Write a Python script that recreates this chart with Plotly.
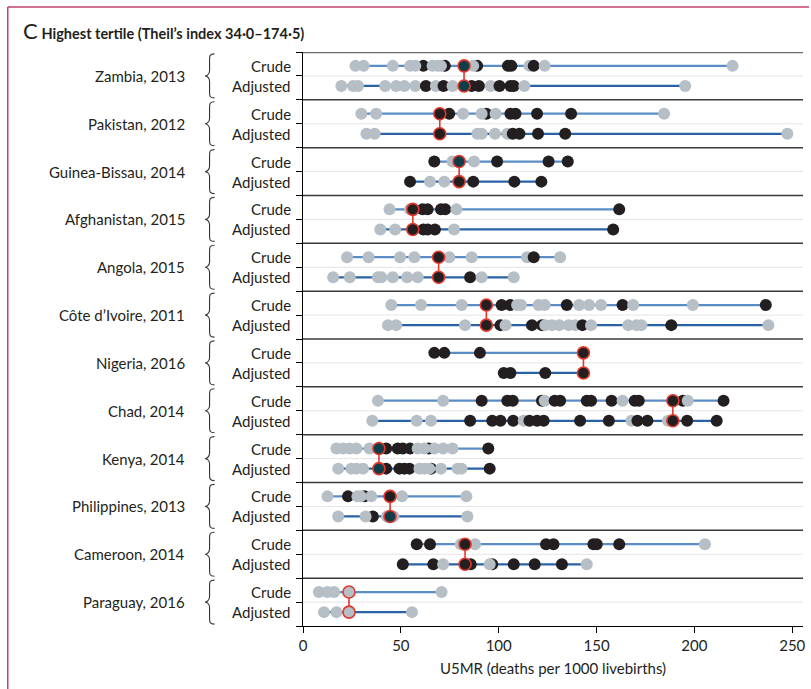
import plotly.graph_objects as go

# ---------------- data ----------------
countries = ["Zambia, 2013", "Pakistan, 2012", "Guinea-Bissau, 2014", "Afghanistan, 2015",
             "Angola, 2015", "Côte d’Ivoire, 2011", "Nigeria, 2016", "Chad, 2014",
             "Kenya, 2014", "Philippines, 2013", "Cameroon, 2014", "Paraguay, 2016"]

crude_vals = [
    [26.8, 31.0, 45.9, 61.5, 54.7, 57.4, 72.5, 66.2, 68.8, 70.5, 89.0, 87.0, 104.7, 106.5, 115.7, 117.9, 123.5, 219.5],
    [29.8, 37.4, 74.7, 81.8, 93.7, 91.3, 98.4, 106.0, 108.6, 119.6, 137.0, 184.5],
    [67.1, 76.4, 87.4, 99.2, 125.5, 135.3],
    [44.2, 54.7, 61.1, 63.7, 70.5, 72.7, 78.4, 161.6],
    [22.5, 33.5, 49.6, 56.9, 74.7, 86.2, 114.5, 117.9, 131.4],
    [45.1, 60.3, 81.1, 101.5, 106.0, 109.4, 111.4, 120.4, 123.5, 134.8, 141.1, 146.2, 152.3, 163.3, 168.7, 199.2, 236.5],
    [67.1, 72.2, 90.4],
    [38.3, 71.6, 91.3, 104.4, 107.2, 122.1, 123.5, 128.6, 131.4, 145.0, 147.2, 157.7, 163.3, 169.5, 171.6, 194.1, 196.6, 214.9],
    [17.1, 20.5, 23.9, 27.3, 34.0, 42.5, 48.4, 51.0, 54.7, 58.6, 64.2, 62.0, 67.1, 71.6, 76.4, 94.7],
    [12.5, 23.0, 31.5, 27.8, 29.5, 34.9, 50.6, 83.5],
    [58.1, 64.9, 80.6, 87.9, 124.2, 128.0, 148.4, 150.1, 161.6, 205.4],
    [8.1, 12.5, 15.9, 70.8],
]
crude_cols = [
    "gggkggkgggkgkkgkgg",
    "ggkgkggkkkkg",
    "kggkkk",
    "ggkkkkgk",
    "gggggggkg",
    "gggkkggggkgggkggk",
    "kkk",
    "ggkkkkgkkkkkgkkkgk",
    "gggggkkkkgkggggk",
    "gkkggggg",
    "kkggkkkkkg",
    "gggg",
]

adj_vals = [
    [19.6, 25.6, 28.1, 42.0, 47.6, 51.8, 57.4, 62.8, 67.9, 71.8, 76.4, 86.2, 89.9, 95.9, 100.4, 106.0, 107.7, 113.1, 195.3],
    [32.4, 36.6, 89.1, 91.3, 98.1, 104.4, 107.2, 110.6, 120.1, 134.0, 247.5],
    [54.7, 64.9, 72.2, 87.0, 108.0, 121.8],
    [39.5, 47.1, 61.5, 63.7, 67.4, 77.2, 158.5],
    [15.4, 23.9, 38.3, 40.0, 45.9, 53.2, 58.6, 85.4, 91.3, 107.7],
    [43.4, 47.6, 82.8, 100.9, 103.5, 117.0, 122.1, 123.8, 127.2, 130.9, 135.7, 139.1, 142.8, 147.2, 166.2, 170.4, 172.9, 188.2, 237.8],
    [102.6, 106.0, 123.8],
    [35.4, 58.1, 65.4, 85.4, 96.7, 100.9, 107.4, 112.8, 115.7, 119.6, 123.0, 141.6, 156.3, 167.9, 170.9, 176.0, 186.5, 196.3, 211.4],
    [18.0, 24.7, 27.3, 30.7, 42.5, 49.3, 51.8, 54.4, 65.5, 59.5, 62.0, 64.5, 70.5, 79.0, 81.0, 95.4],
    [18.0, 35.7, 32.0, 42.9, 46.2, 84.0],
    [51.0, 66.6, 71.6, 85.7, 96.7, 95.4, 107.7, 118.4, 132.3, 145.0],
    [10.7, 17.1, 55.7],
]
adj_cols = [
    "gggggggkgkgkkgkkkgg",
    "ggggggkkkkg",
    "kggkkk",
    "ggkkkgk",
    "gggggggkgg",
    "gggkgkkgggggkggggkg",
    "kkk",
    "gggkkkkgkkkkkgkkgkk",
    "ggggkkkkkggggggk",
    "gkgggg",
    "kkgkkgkkkg",
    "ggg",
]

med_crude = [82.3, 69.9, 79.8, 56.1, 69.3, 93.7, 143.3, 189.0, 38.8, 44.5, 82.8, 23.5]
med_adj   = [82.3, 69.9, 79.8, 56.1, 69.3, 93.7, 143.3, 189.0, 38.8, 44.5, 82.8, 23.5]
med_fill_crude = ["t", "k", "t", "k", "k", "k", "k", "k", "t", "k", "k", "g"]
med_fill_adj   = ["t", "k", "k", "k", "k", "k", "k", "k", "t", "t", "k", "g"]

x_ticks = [0, 50, 100, 150, 200, 250]
x_title = "U5MR (deaths per 1000 livebirths)"
row_labels = ["Crude", "Adjusted"]

# ---------------- style ----------------
COL = {"g": "#b6bec6", "k": "#231f20", "t": "#0f3d48"}
RED = "#e2382c"
LINE_CRUDE = "#5a8dc5"
LINE_ADJ = "#2a62a8"
FONT = "Lato"
TXT = "#231f20"

W, H = 811, 689
ML, MR, MT, MB = 303, 5, 52, 63
pw = W - ML - MR
ph = H - MT - MB
OFF = 0.42

def xp(px):
    return (px - ML) / pw

def yp(py):
    return (H - MB - py) / ph

fig = go.Figure()
shapes = []
annotations = []

for i, name in enumerate(countries):
    c = 2 * i + 1
    yc, ya = c - OFF, c + OFF
    for vals, cols, med, y, lc in [
        (crude_vals[i], crude_cols[i], med_crude[i], yc, LINE_CRUDE),
        (adj_vals[i], adj_cols[i], med_adj[i], ya, LINE_ADJ),
    ]:
        allv = vals + [med]
        fig.add_trace(go.Scatter(x=[min(allv), max(allv)], y=[y, y], mode="lines",
                                 line=dict(color=lc, width=2.2), hoverinfo="skip", showlegend=False))
        fig.add_trace(go.Scatter(x=vals, y=[y] * len(vals), mode="markers",
                                 marker=dict(size=12, color=[COL[k] for k in cols], line=dict(width=0)),
                                 showlegend=False))
    fig.add_trace(go.Scatter(x=[med_crude[i], med_adj[i]], y=[yc, ya], mode="lines",
                             line=dict(color=RED, width=1.6), hoverinfo="skip", showlegend=False))
    fig.add_trace(go.Scatter(x=[med_crude[i], med_adj[i]], y=[yc, ya], mode="markers",
                             marker=dict(size=12, color=[COL[med_fill_crude[i]], COL[med_fill_adj[i]]],
                                         line=dict(color=RED, width=1.6)),
                             showlegend=False))
    # labels
    annotations.append(dict(x=xp(186), y=c, xref="paper", yref="y", text=name, showarrow=False,
                            xanchor="right", yanchor="middle", font=dict(family=FONT, size=15, color=TXT)))
    for lab, yy in zip(row_labels, [yc, ya]):
        annotations.append(dict(x=xp(293), y=yy, xref="paper", yref="y", text=lab, showarrow=False,
                                xanchor="right", yanchor="middle", font=dict(family=FONT, size=15, color=TXT)))
    # brace
    xe, xb, xt = xp(214), xp(209), xp(204.5)
    h = 0.92
    path = (f"M {xe},{c-h} C {xb},{c-h} {xb},{c-h+0.08} {xb},{c-h+0.25} "
            f"L {xb},{c-0.22} C {xb},{c-0.05} {xt+0.002},{c} {xt},{c} "
            f"C {xt+0.002},{c} {xb},{c+0.05} {xb},{c+0.22} "
            f"L {xb},{c+h-0.25} C {xb},{c+h-0.08} {xb},{c+h} {xe},{c+h}")
    shapes.append(dict(type="path", path=path, xref="paper", yref="y",
                       line=dict(color="#333333", width=1.1)))

# grid / separators
for k in range(1, 24):
    if k % 2 == 1:
        shapes.append(dict(type="line", xref="paper", yref="y", x0=0, x1=1, y0=k, y1=k,
                           line=dict(color="#e4e4e4", width=1), layer="below"))
    else:
        shapes.append(dict(type="line", xref="paper", yref="y", x0=0, x1=1, y0=k, y1=k,
                           line=dict(color="#3a3a3a", width=1.5), layer="below"))
shapes.append(dict(type="line", xref="paper", yref="y", x0=0, x1=1, y0=0, y1=0,
                   line=dict(color="#6b6b6b", width=2.5), layer="below"))

# pink frame
shapes.append(dict(type="line", xref="paper", yref="paper", x0=xp(6), x1=xp(812), y0=yp(7), y1=yp(7),
                   line=dict(color="#c2406a", width=1.5)))
shapes.append(dict(type="line", xref="paper", yref="paper", x0=xp(6), x1=xp(6), y0=yp(7), y1=yp(690),
                   line=dict(color="#c2406a", width=1.5)))

# title
annotations.append(dict(x=xp(19), y=yp(30), xref="paper", yref="paper", showarrow=False,
                        xanchor="left", yanchor="middle",
                        text="<span style='font-size:22px'>C</span> <b>Highest tertile (Theil’s index 34·0–174·5)</b>",
                        font=dict(family=FONT, size=14.5, color=TXT)))

fig.update_layout(
    width=W, height=H,
    margin=dict(l=ML, r=MR, t=MT, b=MB),
    paper_bgcolor="white", plot_bgcolor="white",
    shapes=shapes, annotations=annotations,
    showlegend=False,
    xaxis=dict(range=[0, 255.5], showline=True, linecolor="black", linewidth=1.2,
               ticks="outside", ticklen=6, tickcolor="black", tickvals=x_ticks,
               tickfont=dict(family=FONT, size=15, color=TXT), showgrid=False, zeroline=False,
               title=dict(text=x_title, font=dict(family=FONT, size=15, color=TXT), standoff=10)),
    yaxis=dict(range=[24, 0], showline=True, linecolor="black", linewidth=1.2,
               ticks="outside", ticklen=6, tickcolor="black", tickvals=list(range(0, 25)),
               showticklabels=False, showgrid=False, zeroline=False),
)

fig.write_html("out.html", config=dict(displayModeBar=False),
               post_script="document.body.style.margin='0';document.body.style.overflow='hidden';")
